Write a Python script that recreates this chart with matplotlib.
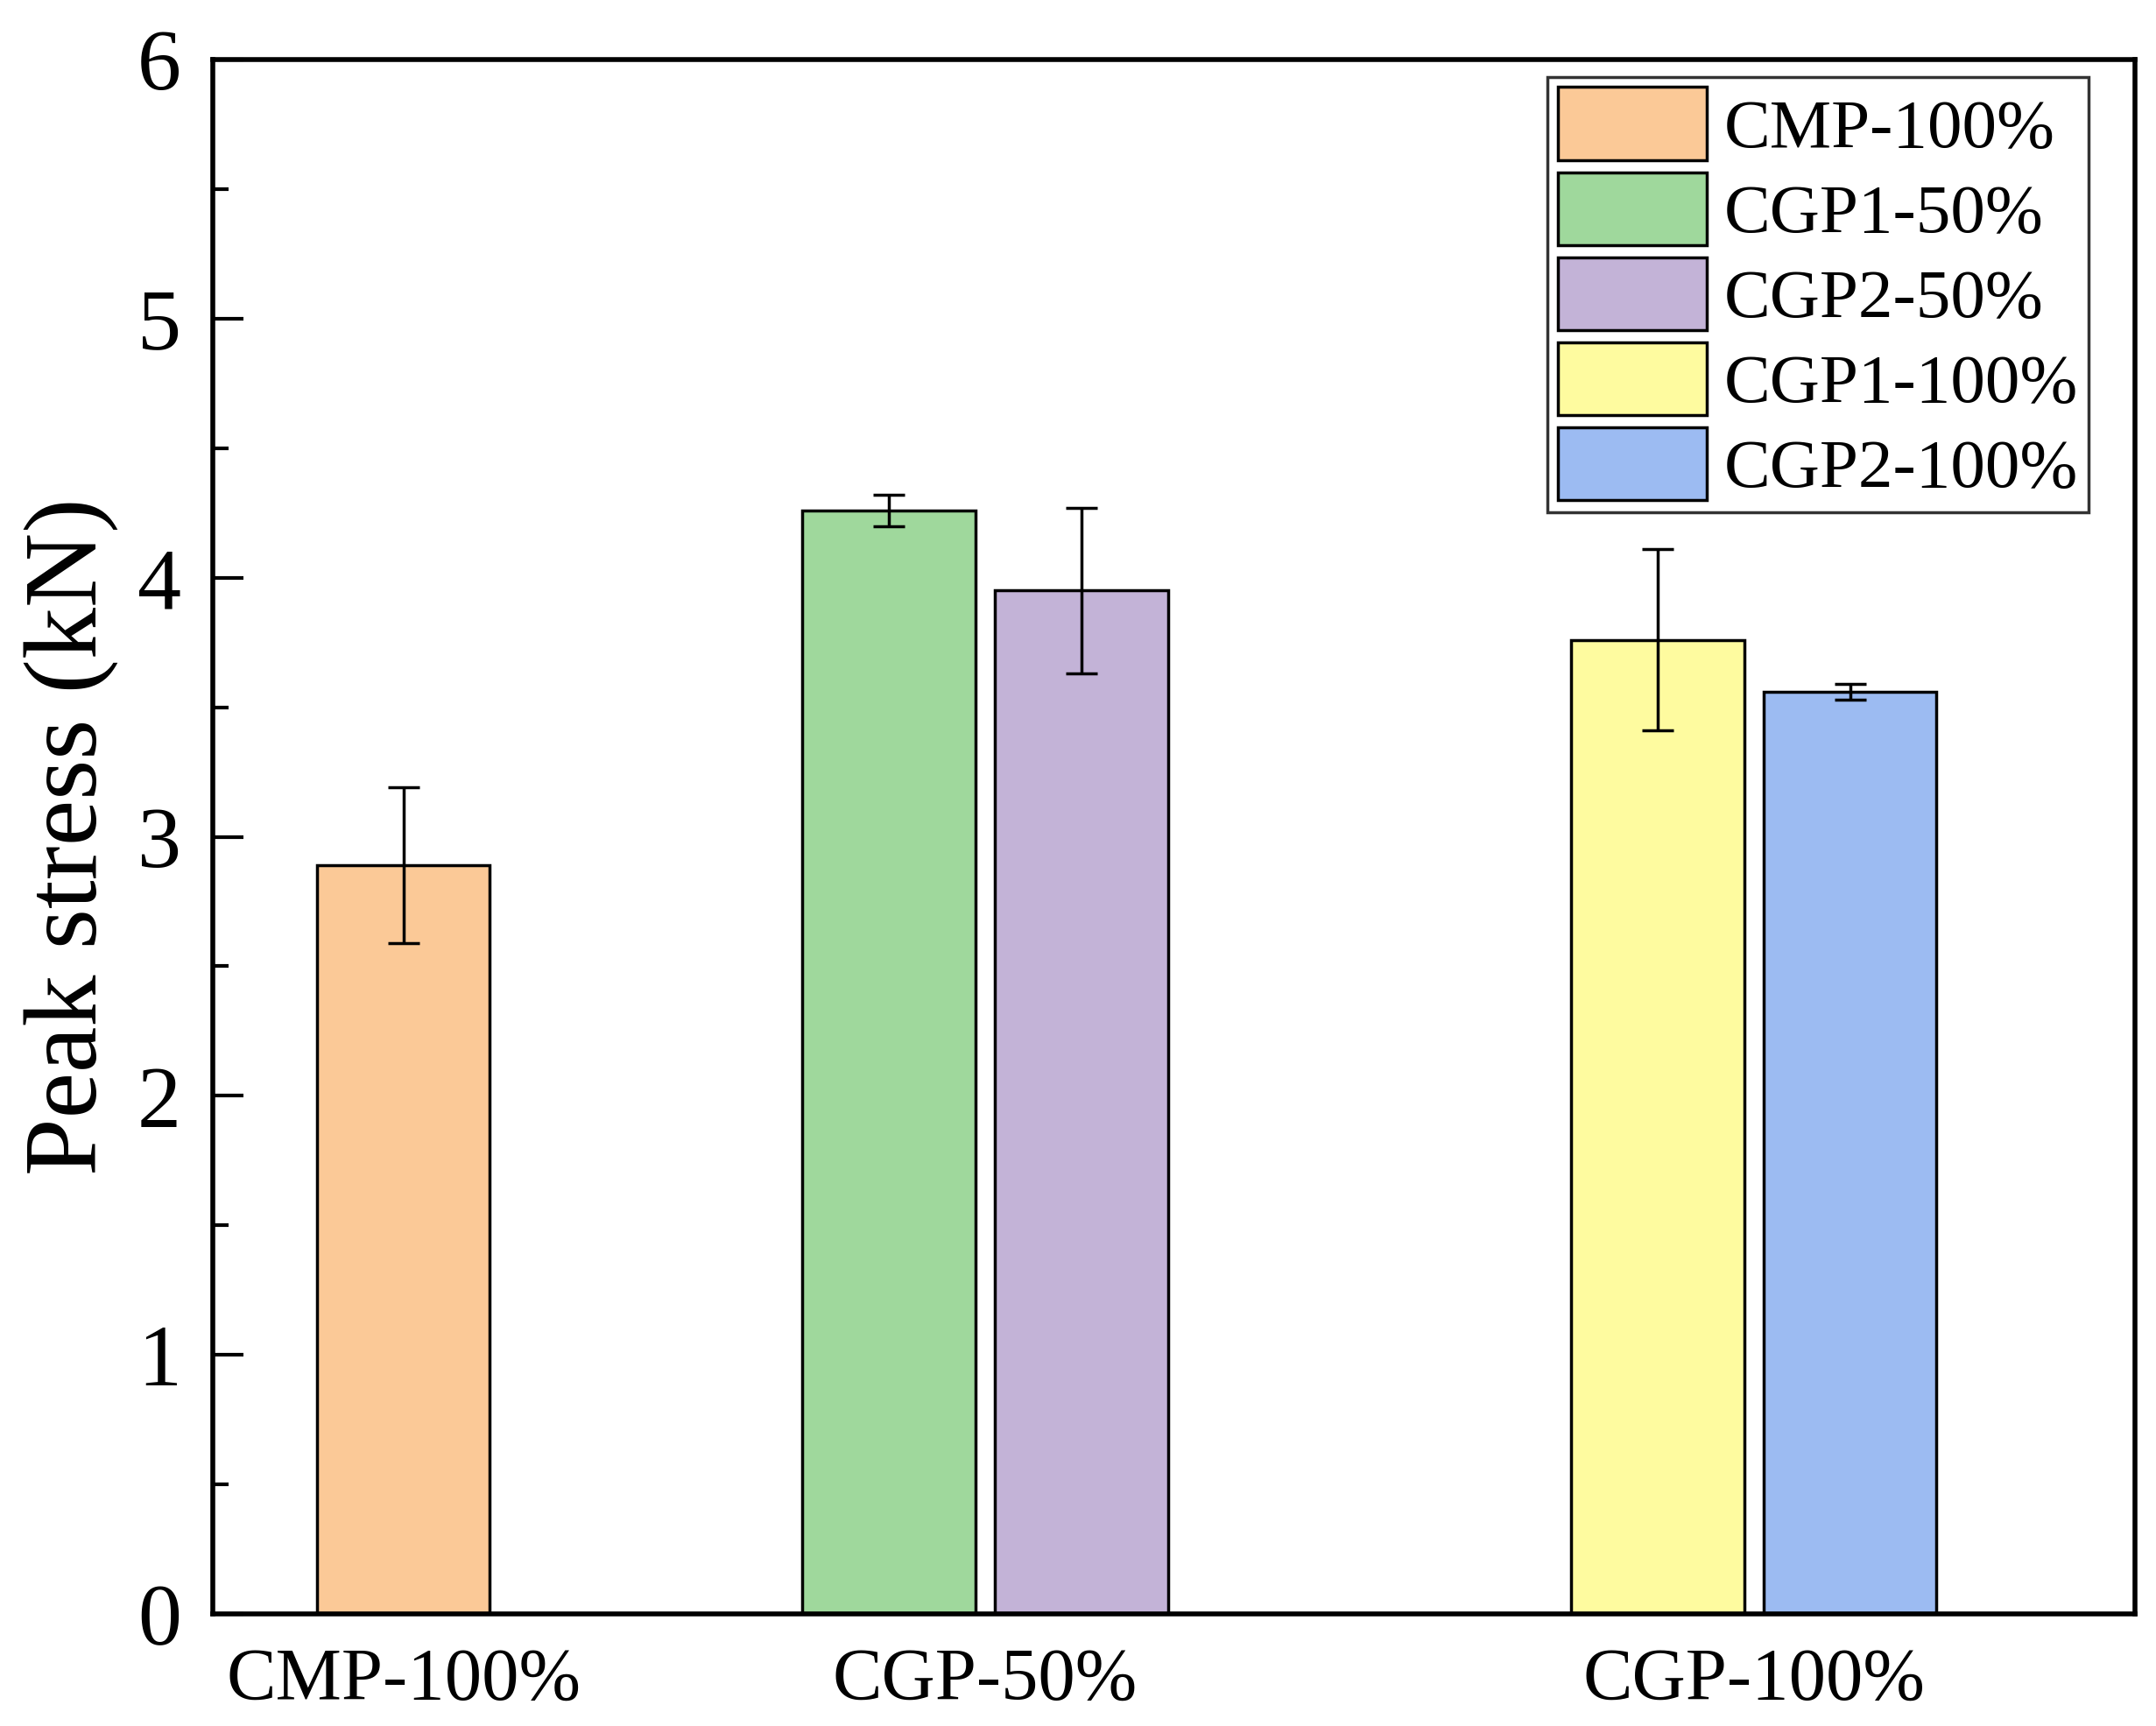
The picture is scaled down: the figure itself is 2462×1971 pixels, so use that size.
import matplotlib
matplotlib.use("Agg")
import matplotlib.pyplot as plt
import numpy as np
from matplotlib.ticker import MultipleLocator

plt.rcParams['font.family'] = ['Liberation Serif', 'DejaVu Serif']

# data ------------------------------------------------------------
groups = ['CMP-100%', 'CGP-50%', 'CGP-100%']
series = ['CMP-100%', 'CGP1-50%', 'CGP2-50%', 'CGP1-100%', 'CGP2-100%']
series_group = [0, 1, 1, 2, 2]          # which group each series sits in
peak = [2.89, 4.26, 3.95, 3.76, 3.56]   # kN
err = [0.30, 0.06, 0.32, 0.35, 0.03]
colors = ['#FBC997', '#9FD89C', '#C3B3D7', '#FEFB9F', '#9CBBF2']

# layout ----------------------------------------------------------
group_pos = [1.10, 4.46, 8.90]
bar_w = 1.0
step = 1.11

xs = []
for i, g in enumerate(series_group):
    members = [k for k, gg in enumerate(series_group) if gg == g]
    n = len(members)
    j = members.index(i)
    xs.append(group_pos[g] + (j - (n - 1) / 2) * step)

fig = plt.figure(figsize=(24.62, 19.71), dpi=100)
ax = fig.add_axes([0.0987, 0.0649, 0.8915, 0.9006])

for i in range(len(series)):
    ax.bar(xs[i], peak[i], width=bar_w, color=colors[i], edgecolor='black',
           linewidth=2.5, label=series[i], zorder=2)
    ax.errorbar(xs[i], peak[i], yerr=err[i], fmt='none', ecolor='black',
                elinewidth=2.5, capsize=13, capthick=2.5, zorder=3)

ax.set_xlim(0, 11.1)
ax.set_ylim(0, 6)
ax.set_xticks(group_pos)
ax.set_xticklabels(groups, fontsize=61)
ax.yaxis.set_major_locator(MultipleLocator(1))
ax.yaxis.set_minor_locator(MultipleLocator(0.5))
ax.tick_params(axis='y', which='major', direction='in', length=25, width=3,
               labelsize=72, pad=26)
ax.tick_params(axis='y', which='minor', direction='in', length=13, width=3)
ax.tick_params(axis='x', length=0, pad=28)
for s in ax.spines.values():
    s.set_linewidth(4)

ax.set_ylabel('Peak stress (kN)', fontsize=85, labelpad=16)

leg = ax.legend(loc='upper right', bbox_to_anchor=(0.976, 0.989), fontsize=57,
                frameon=True, fancybox=False, edgecolor='black',
                handlelength=2.15, handleheight=1.24, labelspacing=0.15,
                handletextpad=0.25, borderpad=0.15, borderaxespad=0)
leg.get_frame().set_linewidth(2.5)

fig.savefig('out.png', dpi=100)
